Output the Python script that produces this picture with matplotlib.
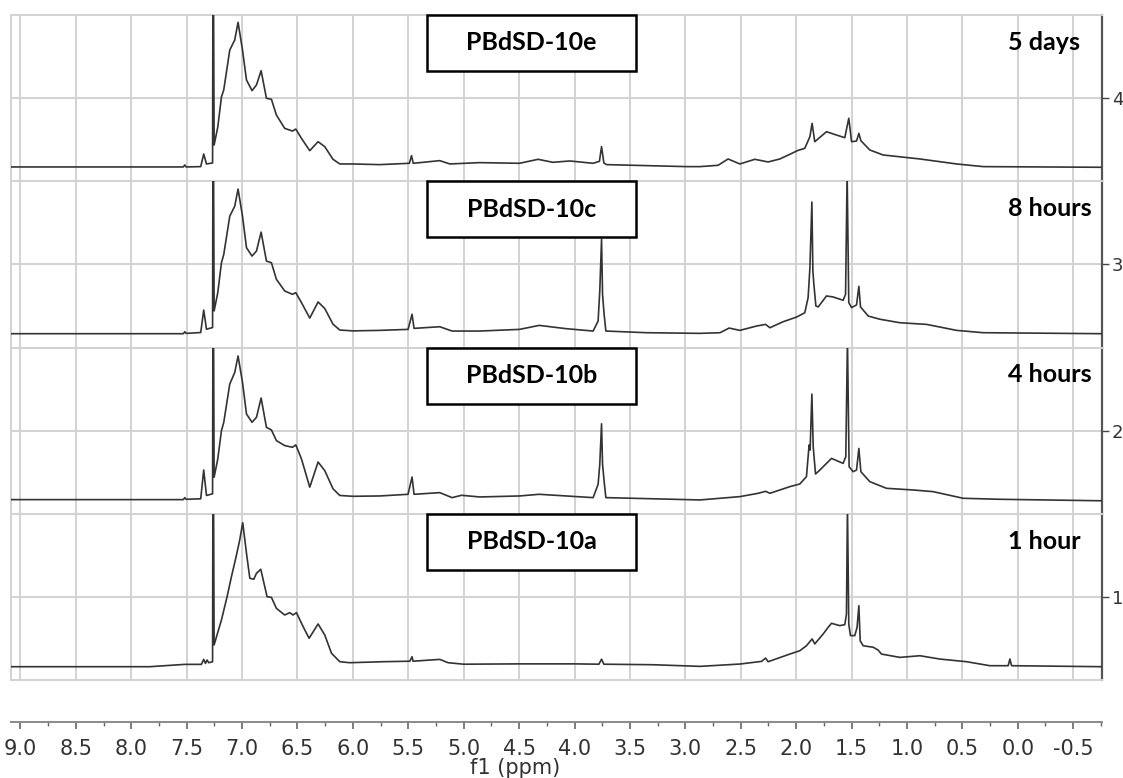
import matplotlib.pyplot as plt
from matplotlib.patches import Rectangle
from matplotlib.ticker import MultipleLocator, FormatStrFormatter

plt.rcParams['axes.unicode_minus'] = False

# ---- spectra (ppm, intensity as fraction of panel height) ----
ppm_5d = [9.09, 7.53, 7.517, 7.505, 7.373, 7.346, 7.321, 7.266, 7.263, 7.258, 7.252, 7.219,
          7.186, 7.165, 7.111, 7.066, 7.036, 6.996, 6.960, 6.910, 6.870, 6.828, 6.780, 6.735,
          6.690, 6.615, 6.545, 6.515, 6.464, 6.389, 6.314, 6.254, 6.179, 6.118, 6.001, 5.757,
          5.49, 5.471, 5.455, 5.216, 5.125, 4.855, 4.496, 4.329, 4.196, 4.042, 3.832, 3.775,
          3.756, 3.735, 3.711, 3.35, 2.989, 2.867, 2.704, 2.614, 2.508, 2.373, 2.253, 2.147,
          2.057, 1.982, 1.922, 1.876, 1.856, 1.832, 1.726, 1.636, 1.561, 1.525, 1.500, 1.455,
          1.434, 1.416, 1.335, 1.215, 0.883, 0.552, 0.312, -0.76]
int_5d = [0.086, 0.086, 0.098, 0.086, 0.088, 0.164, 0.104, 0.11, 1.2, 1.2, 0.218, 0.326,
          0.507, 0.55, 0.789, 0.850, 0.956, 0.789, 0.609, 0.545, 0.579, 0.665, 0.499, 0.493,
          0.398, 0.318, 0.302, 0.314, 0.258, 0.184, 0.238, 0.208, 0.132, 0.104, 0.104, 0.100,
          0.108, 0.154, 0.108, 0.124, 0.104, 0.112, 0.108, 0.132, 0.114, 0.122, 0.108, 0.12,
          0.208, 0.11, 0.100, 0.094, 0.088, 0.088, 0.096, 0.134, 0.104, 0.132, 0.116, 0.134,
          0.162, 0.186, 0.198, 0.268, 0.348, 0.238, 0.298, 0.278, 0.262, 0.379, 0.238, 0.242,
          0.288, 0.244, 0.188, 0.158, 0.134, 0.104, 0.088, 0.084]

ppm_8h = [9.09, 7.53, 7.517, 7.505, 7.373, 7.346, 7.321, 7.266, 7.263, 7.258, 7.252, 7.219,
          7.186, 7.165, 7.111, 7.066, 7.036, 6.996, 6.960, 6.910, 6.870, 6.828, 6.780, 6.735,
          6.690, 6.615, 6.545, 6.515, 6.464, 6.389, 6.314, 6.254, 6.179, 6.118, 6.001, 5.757,
          5.502, 5.466, 5.448, 5.216, 5.105, 4.855, 4.496, 4.319, 4.072, 3.832, 3.787, 3.772,
          3.756, 3.747, 3.733, 3.717, 3.35, 2.867, 2.687, 2.605, 2.508, 2.358, 2.276, 2.237,
          2.117, 1.996, 1.922, 1.892, 1.876, 1.858, 1.849, 1.840, 1.822, 1.801, 1.726, 1.666,
          1.576, 1.554, 1.540, 1.525, 1.500, 1.455, 1.434, 1.419, 1.349, 1.244, 1.064, 0.823,
          0.552, 0.312, -0.76]
int_8h = [0.083, 0.083, 0.095, 0.085, 0.09, 0.225, 0.11, 0.12, 1.2, 1.2, 0.22, 0.33,
          0.51, 0.56, 0.79, 0.85, 0.953, 0.79, 0.60, 0.55, 0.58, 0.694, 0.52, 0.51,
          0.41, 0.34, 0.32, 0.33, 0.27, 0.177, 0.274, 0.235, 0.14, 0.105, 0.10, 0.103,
          0.109, 0.200, 0.115, 0.125, 0.099, 0.099, 0.109, 0.133, 0.113, 0.099, 0.159, 0.340,
          0.651, 0.320, 0.200, 0.099, 0.089, 0.085, 0.089, 0.117, 0.103, 0.129, 0.139, 0.119,
          0.155, 0.183, 0.209, 0.300, 0.476, 0.875, 0.460, 0.380, 0.250, 0.244, 0.310, 0.304,
          0.284, 0.320, 1.05, 0.270, 0.240, 0.256, 0.368, 0.244, 0.189, 0.170, 0.149, 0.139,
          0.103, 0.089, 0.083]

ppm_4h = [9.09, 7.53, 7.517, 7.505, 7.373, 7.346, 7.321, 7.266, 7.263, 7.258, 7.252, 7.219,
          7.186, 7.165, 7.111, 7.066, 7.036, 6.996, 6.960, 6.910, 6.870, 6.828, 6.780, 6.735,
          6.690, 6.615, 6.545, 6.515, 6.464, 6.389, 6.314, 6.254, 6.179, 6.118, 6.001, 5.757,
          5.502, 5.466, 5.448, 5.216, 5.105, 5.020, 4.855, 4.496, 4.319, 3.832, 3.787, 3.772,
          3.756, 3.747, 3.733, 3.717, 3.35, 2.867, 2.508, 2.343, 2.276, 2.237, 2.057, 1.967,
          1.907, 1.883, 1.874, 1.858, 1.846, 1.825, 1.786, 1.681, 1.576, 1.552, 1.537, 1.522,
          1.486, 1.455, 1.434, 1.416, 1.335, 1.185, 0.944, 0.764, 0.493, 0.161, -0.76]
int_4h = [0.085, 0.085, 0.097, 0.087, 0.09, 0.263, 0.11, 0.12, 1.2, 1.2, 0.22, 0.33,
          0.50, 0.55, 0.78, 0.85, 0.949, 0.79, 0.60, 0.55, 0.58, 0.696, 0.52, 0.504,
          0.44, 0.41, 0.40, 0.414, 0.33, 0.16, 0.311, 0.26, 0.15, 0.11, 0.105, 0.107,
          0.117, 0.221, 0.117, 0.127, 0.097, 0.111, 0.101, 0.107, 0.117, 0.097, 0.177, 0.297,
          0.541, 0.297, 0.197, 0.097, 0.091, 0.083, 0.103, 0.123, 0.135, 0.123, 0.163, 0.179,
          0.223, 0.414, 0.383, 0.720, 0.403, 0.239, 0.263, 0.333, 0.303, 0.343, 1.05, 0.283,
          0.253, 0.263, 0.393, 0.253, 0.193, 0.153, 0.143, 0.133, 0.093, 0.087, 0.078]

ppm_1h = [9.09, 7.833, 7.517, 7.367, 7.346, 7.330, 7.316, 7.301, 7.266, 7.263, 7.258, 7.252,
          7.217, 7.186, 7.135, 7.096, 7.057, 7.021, 6.994, 6.960, 6.930, 6.894, 6.870, 6.831,
          6.795, 6.774, 6.735, 6.690, 6.615, 6.570, 6.540, 6.509, 6.449, 6.395, 6.314, 6.254,
          6.193, 6.118, 6.028, 5.727, 5.486, 5.466, 5.457, 5.306, 5.216, 5.141, 5.0, 4.5,
          4.0, 3.78, 3.756, 3.735, 3.3, 2.867, 2.508, 2.312, 2.276, 2.253, 2.057, 1.967,
          1.907, 1.856, 1.832, 1.756, 1.711, 1.681, 1.606, 1.561, 1.546, 1.537, 1.525, 1.510,
          1.471, 1.450, 1.434, 1.422, 1.395, 1.305, 1.260, 1.230, 1.064, 0.883, 0.703, 0.462,
          0.252, 0.087, 0.071, 0.056, -0.76]
int_1h = [0.080, 0.080, 0.094, 0.094, 0.124, 0.100, 0.120, 0.104, 0.11, 1.2, 1.2, 0.211,
          0.291, 0.361, 0.501, 0.621, 0.732, 0.842, 0.946, 0.762, 0.612, 0.606, 0.642, 0.666,
          0.561, 0.501, 0.497, 0.431, 0.391, 0.405, 0.391, 0.405, 0.321, 0.251, 0.337, 0.271,
          0.161, 0.110, 0.104, 0.110, 0.113, 0.140, 0.113, 0.120, 0.124, 0.104, 0.095, 0.097,
          0.097, 0.095, 0.125, 0.095, 0.092, 0.082, 0.096, 0.112, 0.132, 0.110, 0.156, 0.176,
          0.206, 0.247, 0.217, 0.277, 0.317, 0.341, 0.327, 0.333, 0.397, 1.05, 0.337, 0.267,
          0.267, 0.317, 0.447, 0.236, 0.206, 0.197, 0.180, 0.156, 0.136, 0.146, 0.126, 0.110,
          0.086, 0.086, 0.126, 0.086, 0.080]

samples = ['PBdSD-10e', 'PBdSD-10c', 'PBdSD-10b', 'PBdSD-10a']
times = ['5 days', '8 hours', '4 hours', '1 hour']
panel_ticks = ['4', '3', '2', '1']
spectra = [(ppm_5d, int_5d), (ppm_8h, int_8h), (ppm_4h, int_4h), (ppm_1h, int_1h)]
ppm_ticks = [9.0, 8.5, 8.0, 7.5, 7.0, 6.5, 6.0, 5.5, 5.0, 4.5, 4.0, 3.5, 3.0, 2.5, 2.0,
             1.5, 1.0, 0.5, 0.0, -0.5]

# ---- layout (pixels of a 1123x778 canvas) ----
W_PX, H_PX = 1123, 778
left, right = 11, 1102
top, panel_h = 15, 166.25
xlim = (9.085, -0.76)
grid_c = '#d2d2d2'
line_c = '#333333'

fig = plt.figure(figsize=(W_PX / 100, H_PX / 100), dpi=100)

for i, ((ppm, inten), name, t, tk) in enumerate(zip(spectra, samples, times, panel_ticks)):
    y0 = H_PX - (top + (i + 1) * panel_h)
    ax = fig.add_axes([left / W_PX, y0 / H_PX, (right - left) / W_PX, panel_h / H_PX])
    ax.plot(ppm, inten, color=line_c, lw=1.2, zorder=3)
    ax.set_xlim(*xlim)
    ax.set_ylim(0, 1)
    for v in ppm_ticks:
        ax.axvline(v, color=grid_c, lw=1.4, zorder=1)
    ax.axhline(0.5, color=grid_c, lw=1.4, zorder=1)
    ax.set_xticks([])
    ax.yaxis.tick_right()
    ax.set_yticks([0.5])
    ax.set_yticklabels([tk])
    ax.tick_params(axis='y', direction='out', length=5, width=1, color='#444444',
                   labelsize=13, pad=2, labelcolor='#333333')
    for s in ['top', 'bottom', 'left']:
        ax.spines[s].set_color(grid_c)
        ax.spines[s].set_linewidth(1.4)
    ax.spines['right'].set_color('#555555')
    ax.spines['right'].set_linewidth(1.6)

    # sample label box
    bx0 = (427 - left) / (right - left)
    bw = (636 - 427) / (right - left)
    bh = 56 / panel_h
    ax.add_patch(Rectangle((bx0, 1 - bh), bw, bh, transform=ax.transAxes,
                           facecolor='white', edgecolor='black', lw=1.8, zorder=5,
                           clip_on=False))
    ax.text(bx0 + bw / 2, 1 - bh / 2, name, transform=ax.transAxes, ha='center',
            va='center', fontsize=18, fontweight='bold', family='Lato', zorder=6)
    ax.text((1008 - left) / (right - left), 0.835, t, transform=ax.transAxes,
            ha='left', va='center', fontsize=18, fontweight='bold', family='Lato',
            zorder=6)

# ---- ppm axis ----
axb = fig.add_axes([left / W_PX, (H_PX - 722) / H_PX, (right - left) / W_PX, 0.001])
axb.set_xlim(*xlim)
axb.set_yticks([])
for s in ['top', 'left', 'right']:
    axb.spines[s].set_visible(False)
axb.spines['bottom'].set_color('#8a8a8a')
axb.spines['bottom'].set_linewidth(1.4)
axb.set_xticks(ppm_ticks)
axb.xaxis.set_major_formatter(FormatStrFormatter('%.1f'))
axb.xaxis.set_minor_locator(MultipleLocator(0.25))
axb.tick_params(axis='x', which='major', direction='out', length=5, width=1.2,
                color='#666666', labelsize=15, pad=7, labelcolor='#333333')
axb.tick_params(axis='x', which='minor', direction='out', length=3, width=1,
                color='#666666')
fig.text(515 / W_PX, 1 - 768 / H_PX, 'f1 (ppm)', ha='center', va='center',
         fontsize=15, color='#333333')

fig.savefig('out.png', dpi=100)
